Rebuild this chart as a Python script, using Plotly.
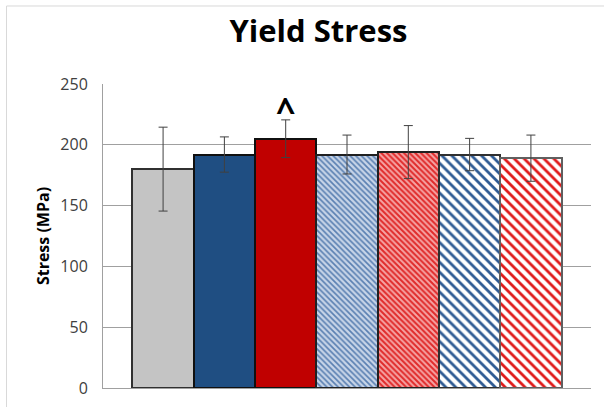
import plotly.graph_objects as go

categories = ["G1", "G2", "G3", "G4", "G5", "G6", "G7"]
means = [180, 192, 205, 192, 194, 192, 189]
errors = [34.5, 14.5, 15.5, 16, 21.8, 13.3, 19]
bar_colors = ["#c4c4c4", "#1f4e82", "#c00000", "#c8d5e8", "#f5a5a5", "#ffffff", "#ffffff"]
pattern_shapes = ["", "", "", "\\", "\\", "\\", "\\"]
pattern_fg = ["#c4c4c4", "#1f4e82", "#c00000", "#5a80b2", "#e02a2a", "#2f5b94", "#e01b1b"]
pattern_size = [6, 6, 6, 4, 4, 7, 7]
pattern_solid = [0.3, 0.3, 0.3, 0.42, 0.5, 0.4, 0.4]
line_colors = ["#303030", "#101010", "#101010", "#202020", "#202020", "#303030", "#606060"]
sig_marks = ["", "", "^", "", "", "", ""]

fig = go.Figure()
for i, cat in enumerate(categories):
    fig.add_trace(go.Bar(
        x=[cat], y=[means[i]], width=1.0,
        marker=dict(
            color=bar_colors[i],
            line=dict(color=line_colors[i], width=2),
            pattern=dict(shape=pattern_shapes[i], fgcolor=pattern_fg[i], bgcolor=bar_colors[i],
                         fgopacity=1, size=pattern_size[i], solidity=pattern_solid[i],
                         fillmode="overlay"),
        ),
        error_y=dict(type="data", array=[errors[i]], visible=True, color="#404040",
                     thickness=1, width=4.5),
        showlegend=False,
    ))

for c, m, e, s in zip(categories, means, errors, sig_marks):
    if s:
        fig.add_annotation(x=c, y=m + e + 8, text="<b>" + s + "</b>", showarrow=False,
                           yanchor="middle", font=dict(family="Open Sans", size=34, color="#000000"))

# outer chart frame (cut by image edges on right/bottom)
fig.add_shape(type="rect", xref="paper", yref="paper",
              x0=-0.1977, x1=1.05, y0=-0.2, y1=1.2566,
              line=dict(color="#d9d9d9", width=1), fillcolor="rgba(0,0,0,0)", layer="below")

fig.update_layout(
    width=604, height=407,
    margin=dict(l=103, r=13, t=84, b=19, autoexpand=False),
    paper_bgcolor="#ffffff", plot_bgcolor="#ffffff",
    title=dict(text="<b>Yield Stress</b>", x=318.5 / 604, xanchor="center",
               y=1 - 31 / 407, yanchor="middle",
               font=dict(family="Open Sans", size=31, color="#000000")),
    font=dict(family="Open Sans", color="#333333"),
    barmode="overlay",
    bargap=0,
    xaxis=dict(range=[-0.98, 6.98], showticklabels=False, showgrid=False,
               showline=True, linecolor="#a0a0a0", linewidth=1, ticks="", zeroline=False,
               automargin=False),
    yaxis=dict(range=[0, 250], tickvals=[0, 50, 100, 150, 200, 250],
               showgrid=True, gridcolor="#a0a0a0", gridwidth=1,
               showline=True, linecolor="#a0a0a0", linewidth=1, zeroline=False,
               ticks="", ticklabelstandoff=11, automargin=False,
               tickfont=dict(family="Open Sans", size=16, color="#404040"),
               title=dict(text="<b>Stress (MPa)</b>", standoff=6,
                          font=dict(family="Open Sans", size=16, color="#000000"))),
)

fig.write_html("out.html", config={"displayModeBar": False},
               post_script="document.body.style.margin='0';")
